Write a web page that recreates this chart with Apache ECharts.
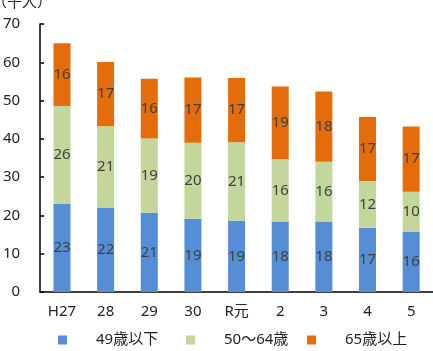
<!DOCTYPE html>
<html>
<head>
<meta charset="utf-8">
<script src="https://cdn.jsdelivr.net/npm/echarts@6/dist/echarts.min.js"></script>
<style>
  html, body { margin: 0; padding: 0; background: #fff; }
  #main { width: 433px; height: 351px; }
</style>
</head>
<body>
<div id="main"></div>
<script>
// 年度
var categories = ['H27', '28', '29', '30', 'R元', '2', '3', '4', '5'];
// 年齢階層別（千人）
var under49 = [23.0, 22.1, 20.7, 19.1, 18.6, 18.4, 18.4, 16.8, 15.8];
var age50to64 = [25.6, 21.2, 19.4, 19.9, 20.5, 16.3, 15.6, 12.2, 10.4];
var over65 = [16.4, 16.8, 15.6, 17.0, 16.8, 19.0, 18.4, 16.7, 17.0];
var seriesNames = ['49歳以下', '50～64歳', '65歳以上'];
var colors = ['#558ed5', '#c3d69b', '#e46c0a'];

var font = '"Noto Sans", "Noto Sans CJK JP", sans-serif';
var chart = echarts.init(document.getElementById('main'));

function makeSeries(name, data, i) {
    return {
        name: name,
        type: 'bar',
        stack: 'total',
        barWidth: 17,
        data: data,
        itemStyle: { color: colors[i] },
        label: {
            show: true,
            position: 'inside',
            color: '#404040',
            fontSize: 15,
            fontFamily: font,
            formatter: function (p) { return Math.round(p.value); }
        }
    };
}

function makeLegend(name, left) {
    return {
        data: [name],
        left: left,
        top: 331,
        padding: 0,
        itemWidth: 9,
        itemHeight: 9,
        icon: 'rect',
        selectedMode: false,
        textStyle: {
            fontSize: 15,
            lineHeight: 18,
            color: '#222',
            fontFamily: font,
            padding: [0, 0, 0, 24]
        }
    };
}

var option = {
    backgroundColor: '#ffffff',
    animation: false,
    grid: { left: 36, right: 0, top: 24, bottom: 59 },
    legend: [
        makeLegend(seriesNames[0], 58),
        makeLegend(seriesNames[1], 186),
        makeLegend(seriesNames[2], 307)
    ],
    graphic: [{
        type: 'text',
        left: -8,
        top: -5,
        style: { text: '（千人）', fontSize: 15, fill: '#222', fontFamily: font }
    }],
    xAxis: {
        type: 'category',
        data: categories,
        axisLine: { lineStyle: { color: '#000', width: 1.5 } },
        axisTick: { show: false },
        axisLabel: { color: '#222', fontSize: 15, fontFamily: font, margin: 12 }
    },
    yAxis: {
        type: 'value',
        min: 0,
        max: 70,
        interval: 10,
        splitLine: { show: false },
        axisLine: { show: true, lineStyle: { color: '#000', width: 1.5 } },
        axisTick: { show: true, inside: true, length: 4, lineStyle: { color: '#000', width: 1.5 } },
        axisLabel: { color: '#222', fontSize: 15, fontFamily: font, margin: 20 }
    },
    series: [
        makeSeries(seriesNames[0], under49, 0),
        makeSeries(seriesNames[1], age50to64, 1),
        makeSeries(seriesNames[2], over65, 2)
    ]
};

chart.setOption(option);
</script>
</body>
</html>
